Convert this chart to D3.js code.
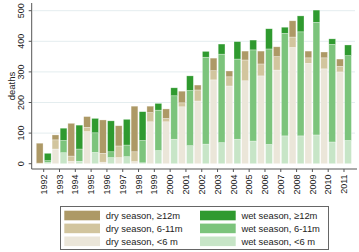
<!DOCTYPE html>
<html>
<head>
<meta charset="utf-8">
<script src="https://cdn.jsdelivr.net/npm/d3@7"></script>
<style>
  body { margin: 0; background: #fff; }
  svg { font-family: "Liberation Sans", Arial, sans-serif; }
</style>
</head>
<body>
<script>
// Werte
const years = ['1992','1993','1994','1995','1996','1997','1998','1999','2000','2001',
               '2002','2003','2004','2005','2006','2007','2008','2009','2010','2011'];
const dryU6   = [0, 48, 8, 105, 5, 20, 7, 137, 137, 186, 205, 274, 254, 271, 287, 306, 380, 328, 310, 300];
const dry6to11 = [2, 30, 17, 14, 29, 38, 32, 30, 11, 13, 36, 30, 30, 68, 39, 44, 34, 18, 36, 18];
const dry12   = [65, 16, 107, 35, 109, 66, 149, 21, 31, 38, 16, 41, 19, 29, 42, 32, 53, 22, 19, 24];
const wetU6   = [4, 36, 8, 37, 20, 23, 3, 43, 80, 59, 64, 69, 80, 74, 63, 91, 91, 94, 71, 76];
const wet6to11 = [6, 40, 40, 64, 19, 38, 73, 132, 142, 180, 284, 289, 262, 298, 312, 335, 340, 368, 319, 277];
const wet12   = [24, 40, 78, 47, 101, 84, 94, 22, 26, 48, 19, 33, 57, 32, 66, 20, 52, 40, 18, 35];
const yTicks = [0, 100, 200, 300, 400, 500];

const seasons = ['dry', 'wet'];
const keys = ['u6', 'm611', 'm12'];
const colors = {
    dry: { u6: '#ebe6d9', m611: '#d2c59e', m12: '#ad9966' },
    wet: { u6: '#c7e5c7', m611: '#7cc47c', m12: '#2f9a2f' }
};
const labels = {
    dry: { u6: 'dry season, <6 m', m611: 'dry season, 6-11m', m12: 'dry season, \u226512m' },
    wet: { u6: 'wet season, <6 m', m611: 'wet season, 6-11m', m12: 'wet season, \u226512m' }
};

const rows = {
    dry: years.map((y, i) => ({ year: y, u6: dryU6[i], m611: dry6to11[i], m12: dry12[i] })),
    wet: years.map((y, i) => ({ year: y, u6: wetU6[i], m611: wet6to11[i], m12: wet12[i] }))
};

const width = 359, height = 252;
const left = 31.7, right = 357, bottom = 169;

const svg = d3.select('body').append('svg')
    .attr('width', width)
    .attr('height', height);

const x = d3.scaleBand()
    .domain(years)
    .range([35.8, 351.9]);

const xs = d3.scaleBand()
    .domain(seasons)
    .range([0, x.bandwidth()])
    .paddingInner(0.16)
    .paddingOuter(0.06);

const y = d3.scaleLinear()
    .domain([0, 500])
    .range([163.7, 10.7]);

// Gitterlinien
svg.append('g')
    .selectAll('line')
    .data(yTicks.slice(1))
    .enter()
    .append('line')
    .attr('x1', left + 1)
    .attr('x2', 355)
    .attr('y1', d => y(d))
    .attr('y2', d => y(d))
    .attr('stroke', '#e4edef')
    .attr('stroke-width', 1);

// Balken
const stack = d3.stack().keys(keys);
seasons.forEach(s => {
    const layers = stack(rows[s]);
    svg.append('g')
        .attr('class', 'season-' + s)
        .selectAll('g')
        .data(layers)
        .enter()
        .append('g')
        .attr('fill', d => colors[s][d.key])
        .selectAll('rect')
        .data(d => d)
        .enter()
        .append('rect')
        .attr('x', d => x(d.data.year) + xs(s))
        .attr('width', xs.bandwidth())
        .attr('y', d => y(d[1]))
        .attr('height', d => y(d[0]) - y(d[1]))
        .attr('stroke', '#ffffff')
        .attr('stroke-opacity', 0.5)
        .attr('stroke-width', 0.6);
});

// Achsen
svg.append('line')
    .attr('x1', left).attr('x2', left)
    .attr('y1', 3).attr('y2', bottom)
    .attr('stroke', '#555').attr('stroke-width', 1);
svg.append('line')
    .attr('x1', left).attr('x2', right)
    .attr('y1', bottom).attr('y2', bottom)
    .attr('stroke', '#555').attr('stroke-width', 1);

const yAxisG = svg.append('g');
yAxisG.selectAll('line')
    .data(yTicks)
    .enter()
    .append('line')
    .attr('x1', left - 3).attr('x2', left)
    .attr('y1', d => y(d)).attr('y2', d => y(d))
    .attr('stroke', '#555');
yAxisG.selectAll('text')
    .data(yTicks)
    .enter()
    .append('text')
    .attr('transform', d => 'translate(24,' + y(d) + ') rotate(-90)')
    .attr('text-anchor', 'middle')
    .attr('font-size', 9)
    .attr('fill', '#222')
    .text(d => d);

svg.append('text')
    .attr('transform', 'translate(15,86) rotate(-90)')
    .attr('text-anchor', 'middle')
    .attr('font-size', 9.5)
    .attr('fill', '#222')
    .text('deaths');

const xAxisG = svg.append('g');
xAxisG.selectAll('line')
    .data(years)
    .enter()
    .append('line')
    .attr('x1', d => x(d) + x.bandwidth() / 2)
    .attr('x2', d => x(d) + x.bandwidth() / 2)
    .attr('y1', bottom).attr('y2', bottom + 3)
    .attr('stroke', '#555');
xAxisG.selectAll('text')
    .data(years)
    .enter()
    .append('text')
    .attr('transform', d => 'translate(' + (x(d) + x.bandwidth() / 2) + ',174.5) rotate(-90)')
    .attr('text-anchor', 'end')
    .attr('dy', '0.35em')
    .attr('font-size', 9)
    .attr('fill', '#222')
    .text(d => d);

// Legende
const legend = svg.append('g');
legend.append('rect')
    .attr('x', 60.5).attr('y', 206.5)
    .attr('width', 268).attr('height', 43)
    .attr('fill', '#fff')
    .attr('stroke', '#666');

const legendItems = [];
['m12', 'm611', 'u6'].forEach((k, row) => {
    seasons.forEach((s, col) => legendItems.push({ season: s, key: k, row: row, col: col }));
});

const lg = legend.selectAll('g.item')
    .data(legendItems)
    .enter()
    .append('g')
    .attr('class', 'item')
    .attr('transform', d => 'translate(' + (d.col ? 200 : 64.3) + ',' + (215.5 + d.row * 12.9) + ')');
lg.append('rect')
    .attr('x', 0).attr('y', -4.8)
    .attr('width', 35.7).attr('height', 9.6)
    .attr('fill', d => colors[d.season][d.key]);
lg.append('text')
    .attr('x', 41.4)
    .attr('dy', '0.35em')
    .attr('font-size', 9.4)
    .attr('fill', '#222')
    .text(d => labels[d.season][d.key]);
</script>
</body>
</html>
